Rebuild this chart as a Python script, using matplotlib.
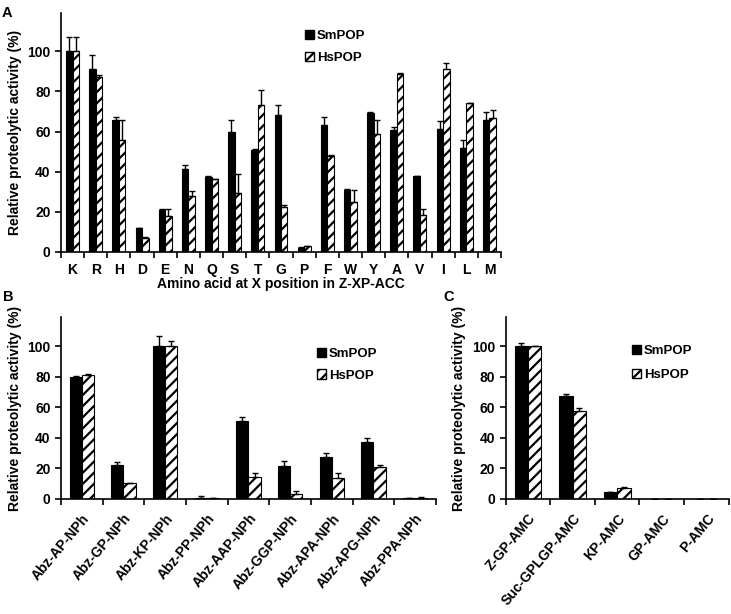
#!/usr/bin/env python3
"""Relative proteolytic activity of SmPOP and HsPOP on three substrate panels."""

import matplotlib
matplotlib.use("Agg")
import matplotlib.pyplot as plt
import numpy as np
from matplotlib.patches import Patch

plt.rcParams["font.family"] = ["Liberation Sans", "DejaVu Sans"]
plt.rcParams["font.weight"] = "bold"
plt.rcParams["axes.labelweight"] = "bold"
plt.rcParams["font.size"] = 10
plt.rcParams["hatch.linewidth"] = 1.6

# Panel A: Z-XP-ACC library
a_labels = ["K", "R", "H", "D", "E", "N", "Q", "S", "T", "G", "P", "F", "W", "Y", "A", "V", "I", "L", "M"]
a_sm = [100, 91.2, 66, 11.8, 21, 41.1, 37.4, 60, 50.6, 68.2, 2.2, 63.4, 31.1, 69.4, 60.9, 37.8, 61.2, 51.9, 65.7]
a_sm_err = [7, 7, 1.5, 0.3, 0.3, 2, 0.3, 5.7, 0.5, 5.2, 0.3, 3.8, 0.5, 0.3, 1.2, 0.3, 4.2, 3.8, 4]
a_hs = [100, 87.4, 55.7, 7.2, 17.8, 27.8, 36.3, 29.3, 73, 22.6, 2.8, 47.9, 24.8, 58.9, 88.7, 18.3, 91.2, 74, 66.7]
a_hs_err = [7, 1, 10.3, 0.3, 3.7, 2.6, 0.3, 9.8, 7.5, 0.9, 0.3, 0.3, 6, 6.8, 0.3, 3, 2.8, 0.3, 4.2]

# Panel B: Abz-peptide-NPh substrates
b_labels = ["Abz-AP-NPh", "Abz-GP-NPh", "Abz-KP-NPh", "Abz-PP-NPh", "Abz-AAP-NPh",
            "Abz-GGP-NPh", "Abz-APA-NPh", "Abz-APG-NPh", "Abz-PPA-NPh"]
b_sm = [80, 22.2, 100, 0.4, 50.7, 21.7, 27.6, 37.4, 0.4]
b_sm_err = [0.5, 2.1, 6.7, 1.5, 2.6, 3.3, 2.6, 2.2, 0.5]
b_hs = [80.9, 10.4, 100, 0.5, 14.3, 3, 13.9, 20.9, 0.4]
b_hs_err = [0.8, 0.3, 3, 0.3, 3, 2.4, 3.3, 1.5, 0.7]

# Panel C: AMC substrates
c_labels = ["Z-GP-AMC", "Suc-GPLGP-AMC", "KP-AMC", "GP-AMC", "P-AMC"]
c_sm = [100, 67.2, 4.6, 0.3, 0]
c_sm_err = [2, 1.5, 0.3, 0, 0]
c_hs = [100, 57.6, 7, 0.2, 0]
c_hs_err = [0, 1.7, 0.6, 0, 0]

SERIES = ["SmPOP", "HsPOP"]
Y_TICKS = [0, 20, 40, 60, 80, 100]


def draw_panel(ax, labels, sm, sm_err, hs, hs_err, width, rotate, legend_at, spacing):
    x = np.arange(len(labels))
    ekw = dict(elinewidth=1.0, capsize=2.2, capthick=1.0, ecolor="black")
    ax.bar(x - width / 2, sm, width, color="black", edgecolor="black", linewidth=0.8,
           yerr=[np.zeros(len(sm)), sm_err], error_kw=ekw, zorder=2)
    ax.bar(x + width / 2, hs, width, color="white", edgecolor="black", linewidth=0.8,
           hatch="///", yerr=[np.zeros(len(hs)), hs_err], error_kw=ekw, zorder=2)

    ax.set_xlim(-0.5, len(labels) - 0.5)
    ax.set_ylim(0, 119)
    ax.set_yticks(Y_TICKS)
    ax.set_ylabel("Relative proteolytic activity (%)", labelpad=4)
    ax.spines["top"].set_visible(False)
    ax.spines["right"].set_visible(False)
    for side in ("left", "bottom"):
        ax.spines[side].set_linewidth(1.2)

    ax.set_xticks(x)
    ax.set_xticks(np.arange(len(labels) + 1) - 0.5, minor=True)
    ax.tick_params(axis="x", which="major", length=0, pad=8)
    ax.tick_params(axis="x", which="minor", length=4, width=1.2, direction="out")
    ax.tick_params(axis="y", length=4, width=1.2, direction="out")
    if rotate:
        ax.set_xticklabels(labels, rotation=50, ha="right", rotation_mode="anchor")
        ax.tick_params(axis="x", which="major", pad=9)
    else:
        ax.set_xticklabels(labels)

    handles = [Patch(facecolor="black", edgecolor="black"),
               Patch(facecolor="white", edgecolor="black", hatch="///")]
    ax.legend(handles, SERIES, loc="upper left", bbox_to_anchor=legend_at, frameon=False,
              borderpad=0, borderaxespad=0, handlelength=0.7, handleheight=0.7,
              handletextpad=0.2, labelspacing=spacing, fontsize=9.5)


def main() -> int:
    fig = plt.figure(figsize=(7.31, 6.14), dpi=100)
    ax_a = fig.add_axes([0.0834, 0.5896, 0.602, 0.389])
    ax_b = fig.add_axes([0.0834, 0.1873, 0.513, 0.2964])
    ax_c = fig.add_axes([0.6918, 0.1873, 0.305, 0.2964])

    draw_panel(ax_a, a_labels, a_sm, a_sm_err, a_hs, a_hs_err, 0.28, False, (0.555, 0.93), 0.75)
    ax_a.set_xlabel("Amino acid at X position in Z-XP-ACC", labelpad=0)
    draw_panel(ax_b, b_labels, b_sm, b_sm_err, b_hs, b_hs_err, 0.29, True, (0.683, 0.83), 0.7)
    draw_panel(ax_c, c_labels, c_sm, c_sm_err, c_hs, c_hs_err, 0.30, True, (0.566, 0.845), 0.85)

    fig.text(0.002, 0.99, "A", fontsize=10.5, fontweight="bold", va="top")
    fig.text(0.004, 0.527, "B", fontsize=10.5, fontweight="bold", va="top")
    fig.text(0.606, 0.527, "C", fontsize=10.5, fontweight="bold", va="top")

    fig.savefig("out.png", dpi=100)
    return 0


if __name__ == "__main__":
    raise SystemExit(main())
